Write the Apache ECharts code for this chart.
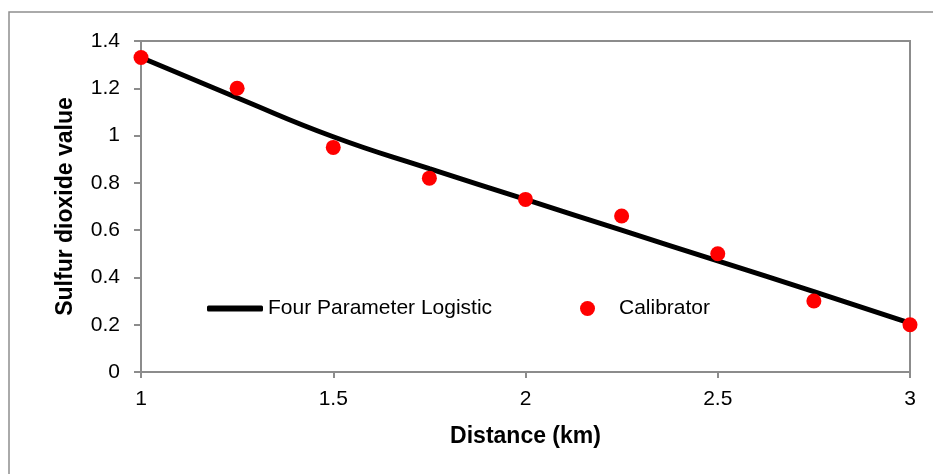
<!DOCTYPE html>
<html>
<head>
<meta charset="utf-8">
<script src="https://cdn.jsdelivr.net/npm/echarts@6/dist/echarts.min.js"></script>
<style>
  html, body { margin: 0; padding: 0; background: #fff; }
  #chart { width: 933px; height: 474px; }
</style>
</head>
<body>
<div id="chart"></div>
<script>
const distances = [1, 1.25, 1.5, 1.75, 2, 2.25, 2.5, 2.75, 3];
const fitValues = [1.33, 1.16, 0.995, 0.86, 0.73, 0.6, 0.47, 0.34, 0.207];
const calibratorValues = [1.33, 1.2, 0.95, 0.82, 0.73, 0.66, 0.5, 0.3, 0.2];

const font = "Liberation Sans, Arial, sans-serif";
const axisGray = "#8c8c8c";

const chart = echarts.init(document.getElementById("chart"));

chart.setOption({
  animation: false,
  textStyle: { fontFamily: font },
  graphic: [
    {
      type: "rect",
      shape: { x: 9, y: 12, width: 1000, height: 500 },
      style: { fill: "none", stroke: "#8f8f8f", lineWidth: 1.5 },
      silent: true,
    },
  ],
  grid: {
    left: 141,
    top: 41,
    right: 23,
    bottom: 102,
    show: true,
    borderColor: axisGray,
    borderWidth: 2,
    backgroundColor: "transparent",
  },
  legend: [
    {
      left: 202,
      top: 293,
      itemWidth: 56,
      itemHeight: 6,
      textStyle: { fontFamily: font, fontSize: 21, color: "#000" },
      data: [{ name: "Four Parameter Logistic", icon: "roundRect", itemStyle: { color: "#000" } }],
    },
    {
      left: 575,
      top: 293,
      itemWidth: 15,
      itemHeight: 15,
      textStyle: { fontFamily: font, fontSize: 21, color: "#000", padding: [0, 0, 0, 19] },
      data: [{ name: "Calibrator", icon: "circle", itemStyle: { color: "#ff0000", opacity: 1 } }],
    },
  ],
  xAxis: {
    type: "value",
    min: 1,
    max: 3,
    interval: 0.5,
    name: "Distance (km)",
    nameLocation: "middle",
    nameGap: 53,
    nameTextStyle: { fontFamily: font, fontSize: 23, fontWeight: "bold", color: "#000" },
    axisLine: { show: true, lineStyle: { color: axisGray, width: 2 } },
    axisTick: { show: true, length: 6, lineStyle: { color: axisGray, width: 2 } },
    axisLabel: { fontFamily: font, fontSize: 21, color: "#000", margin: 17 },
    splitLine: { show: false },
  },
  yAxis: {
    type: "value",
    min: 0,
    max: 1.4,
    interval: 0.2,
    name: "Sulfur dioxide value",
    nameLocation: "middle",
    nameGap: 64,
    nameTextStyle: { fontFamily: font, fontSize: 23, fontWeight: "bold", color: "#000" },
    axisLine: { show: true, lineStyle: { color: axisGray, width: 2 } },
    axisTick: { show: true, length: 7, lineStyle: { color: axisGray, width: 2 } },
    axisLabel: { fontFamily: font, fontSize: 21, color: "#000", margin: 21 },
    splitLine: { show: false },
  },
  series: [
    {
      name: "Four Parameter Logistic",
      type: "line",
      data: distances.map((d, i) => [d, fitValues[i]]),
      smooth: true,
      symbol: "none",
      lineStyle: { color: "#000", width: 5 },
      itemStyle: { color: "#000" },
      z: 2,
    },
    {
      name: "Calibrator",
      type: "scatter",
      data: distances.map((d, i) => [d, calibratorValues[i]]),
      symbol: "circle",
      symbolSize: 15,
      itemStyle: { color: "#ff0000", opacity: 1 },
      clip: false,
      z: 3,
    },
  ],
});
</script>
</body>
</html>
